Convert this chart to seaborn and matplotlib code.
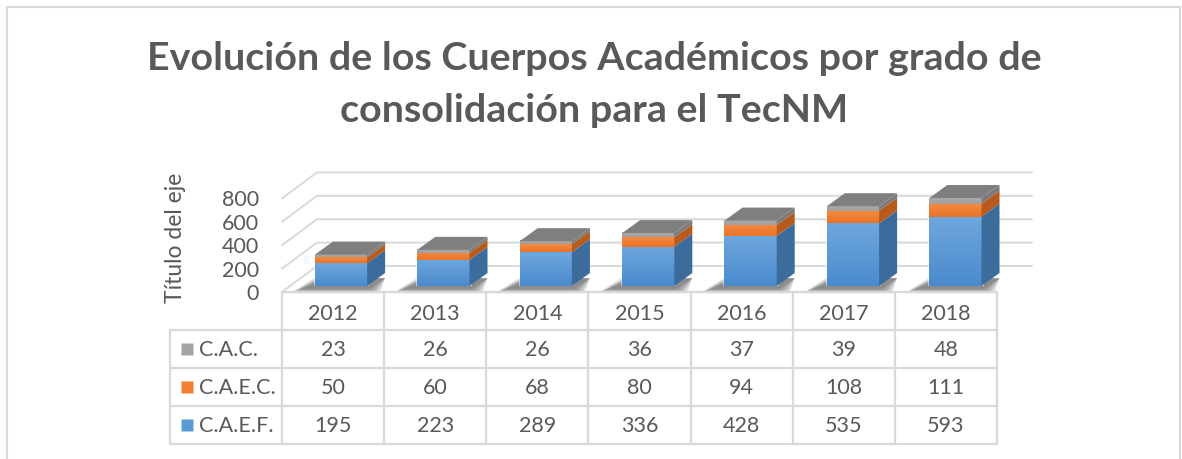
import numpy as np
import pandas as pd
import matplotlib
matplotlib.use('Agg')
import matplotlib.pyplot as plt
import seaborn as sns
from matplotlib.patches import Polygon, Rectangle
from matplotlib.colors import LinearSegmentedColormap

# datos de la tabla
anios = ['2012', '2013', '2014', '2015', '2016', '2017', '2018']
cac = [23, 26, 26, 36, 37, 39, 48]
caec = [50, 60, 68, 80, 94, 108, 111]
caef = [195, 223, 289, 336, 428, 535, 593]
series = ['C.A.C.', 'C.A.E.C.', 'C.A.E.F.']
yticks = [0, 200, 400, 600, 800]

sns.set_theme(style='white')
plt.rcParams['font.family'] = ['Lato', 'DejaVu Sans']

W, H = 1182, 460
fig = plt.figure(figsize=(W / 100, H / 100), dpi=100)
GRIS_TXT = '#595959'
LINEA = '#d9d9d9'
FS = 15.5

# escala en pixeles del plano frontal de las barras
SX, SY = 102.4, 0.117
X0, Y0 = 341, 287
def fx(px): return (px - X0) / SX
def fy(py): return (Y0 - py) / SY

ax = fig.add_axes([170 / W, (H - 287) / H, 840 / W, 137 / H])

df = pd.DataFrame({'anio': anios, 'cac': cac, 'caec': caec, 'caef': caef})
df['t1'] = df.caef
df['t2'] = df.t1 + df.caec
df['t3'] = df.t2 + df.cac

# paredes: lineas de cuadricula
for v in yticks:
    ax.plot([fx(282), fx(317), fx(1032)], [v + fy(293), v + fy(267), v + fy(267)],
            color=LINEA, lw=1.4, clip_on=False, zorder=0)
    ax.text(fx(259), v + fy(294), str(v), ha='right', va='center', fontsize=FS,
            color=GRIS_TXT)

# barras apiladas (acumulados, de arriba hacia abajo)
capas = [('t3', '#a5a5a5'), ('t2', '#ed7d31'), ('t1', '#5b9bd5')]
rects = {}
for col, c in capas:
    n = len(ax.patches)
    sns.barplot(data=df, x='anio', y=col, color=c, width=0.51, ax=ax,
                saturation=1, errorbar=None)
    rects[col] = ax.patches[n:]

dx, dy = 18 / SX, 13 / SY
frentes = {'t1': ('#6ea7de', '#4a8acd'), 't2': ('#f68a40', '#e8732a'), 't3': ('#aaaaaa', '#a0a0a0')}
lados = {'t1': '#3b6c9b', 't2': '#b75b1d', 't3': '#7b7b7b'}
grad = np.linspace(0, 1, 64).reshape(-1, 1)

for i, a in enumerate(anios):
    p = rects['t3'][i]
    x0, w = p.get_x(), p.get_width()
    x1 = x0 + w
    # sombra en el piso
    for k in range(6):
        e = k * 2.2
        sh = Polygon([(x0 - (14 + e) / SX, -(3 + e * 0.4) / SY), (x1 + (2 + e) / SX, -(3 + e * 0.4) / SY),
                      (x1 + dx, dy * 0.6), (x0 + dx - (8 + e) / SX, dy * 0.6)],
                     closed=True, fc='#202020', ec='none', alpha=0.11, zorder=1, clip_on=False)
        ax.add_patch(sh)
    lo = 0
    for col in ['t1', 't2', 't3']:
        hi = df.loc[i, col]
        for q in rects[col]:
            q.set_zorder(2)
        cm = LinearSegmentedColormap.from_list('g', [frentes[col][1], frentes[col][0]])
        ax.imshow(grad, extent=[x0, x1, lo, hi], origin='lower', aspect='auto',
                  cmap=cm, zorder=3, interpolation='bilinear')
        ax.add_patch(Polygon([(x1, lo), (x1 + dx, lo + dy), (x1 + dx, hi + dy), (x1, hi)],
                             closed=True, fc=lados[col], ec='none', zorder=3))
        lo = hi
    ax.add_patch(Polygon([(x0, lo), (x1, lo), (x1 + dx, lo + dy), (x0 + dx, lo + dy)],
                         closed=True, fc='#7f7f7f', ec='none', zorder=3))

ax.set_xlim(fx(170), fx(1010))
ax.set_ylim(0, fy(150))
ax.axis('off')

fig.text(176 / W, 1 - 238 / H, 'Título del eje', rotation=90, ha='center', va='center',
         fontsize=16.5, color=GRIS_TXT)

# tabla de datos
tax = fig.add_axes([170 / W, (H - 445) / H, (997 - 170) / W, (445 - 293) / H])
CW = (997 - 282) / 7
xl = -(282 - 170) / CW
tax.set_xlim(xl, 7)
tax.set_ylim(0, 4)
tax.axis('off')
for k in range(8):
    tax.plot([k, k], [0, 4], color=LINEA, lw=1.6, clip_on=False)
tax.plot([xl, xl], [0, 3], color=LINEA, lw=1.6, clip_on=False)
for r in range(4):
    tax.plot([xl, 7], [r, r], color=LINEA, lw=1.6, clip_on=False)
tax.plot([0, 7], [4, 4], color=LINEA, lw=1.6, clip_on=False)

valores = [cac, caec, caef]
claves = ['#a5a5a5', '#f47e30', '#5b9bd5']
for k, a in enumerate(anios):
    tax.text(k + 0.5, 3.45, a, ha='center', va='center', fontsize=FS, color=GRIS_TXT)
for r, (nom, vals, c) in enumerate(zip(series, valores, claves)):
    yy = 2.5 - r
    tax.plot([(187 - 282) / CW], [yy], marker='s', ms=8.5, color=c, mec='none')
    tax.text((199 - 282) / CW, yy, nom, ha='left', va='center', fontsize=FS, color=GRIS_TXT)
    for k, v in enumerate(vals):
        tax.text(k + 0.5, yy, str(v), ha='center', va='center', fontsize=FS, color=GRIS_TXT)

# titulo
fig.text(594 / W, 1 - 70 / H, 'Evolución de los Cuerpos Académicos por grado de',
         ha='center', va='baseline', fontsize=28.4, weight='bold', color=GRIS_TXT)
fig.text(594 / W, 1 - 122 / H, 'consolidación para el TecNM',
         ha='center', va='baseline', fontsize=28.4, weight='bold', color=GRIS_TXT)

fig.add_artist(Rectangle((7 / W, -0.05), (1180 - 7) / W, (460 - 8) / H + 0.05,
                         transform=fig.transFigure, fill=False, ec=LINEA, lw=1.5))

fig.savefig('out.png', dpi=100)
